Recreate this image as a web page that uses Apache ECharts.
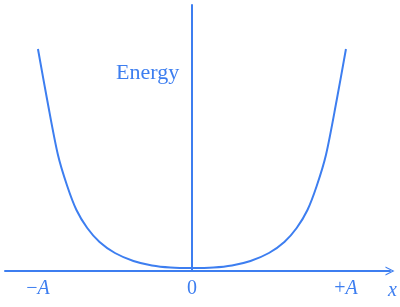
<!DOCTYPE html>
<html><head><meta charset="utf-8">
<script src="https://cdn.jsdelivr.net/npm/echarts@6/dist/echarts.min.js"></script>
<style>html,body{margin:0;padding:0;background:#fff}#c{width:400px;height:307px}</style>
</head><body><div id="c"></div>
<script>
// displacement in units of amplitude A (right half; mirrored for the left)
const halfX = [0, 0.14, 0.26, 0.38, 0.50, 0.60, 0.68, 0.75, 0.81, 0.87, 0.94, 1.0];
// energy (arbitrary units)
const halfE = [0, 0.5, 2.5, 7, 15, 26, 40, 58, 82, 113, 168, 219];
const tickValues = [-1, 0, 1];
const tickLabels = ['{n|−}{i|A}', '{n|0}', '{n|+}{i|A}'];

const pts = [];
for (let i = halfX.length - 1; i > 0; i--) pts.push([-halfX[i], halfE[i]]);
for (let i = 0; i < halfX.length; i++) pts.push([halfX[i], halfE[i]]);

const blue = '#3d7ef0';
const serif = '"Liberation Serif","Times New Roman",serif';
const chart = echarts.init(document.getElementById('c'));
chart.setOption({
  animation: false,
  title: [
    {text: 'Energy', left: 111, top: 57, textStyle: {fontFamily: serif, fontWeight: 'normal', fontSize: 22, color: blue}},
    {text: 'x', left: 383, top: 276, textStyle: {fontFamily: serif, fontStyle: 'italic', fontWeight: 'normal', fontSize: 20, color: blue}}
  ],
  grid: {left: 5, right: 10, top: 5, bottom: 36},
  xAxis: {
    type: 'value', min: -1.214, max: 1.286,
    axisLine: {onZero: false, lineStyle: {color: blue, width: 2},
      symbol: ['none', 'path://M0,10 L5,0 L10,10 L8.6,10 L5,2.6 L1.4,10 Z'], symbolSize: [14, 9]},
    axisTick: {show: false}, splitLine: {show: false},
    axisLabel: {customValues: tickValues, margin: 8,
      formatter: v => tickLabels[tickValues.indexOf(Math.round(v))] || '',
      rich: {n: {fontFamily: serif, fontSize: 20, color: blue}, i: {fontFamily: serif, fontStyle: 'italic', fontSize: 20, color: blue}}}
  },
  yAxis: {
    type: 'value', min: -3, max: 263,
    axisLine: {show: true, onZero: true, lineStyle: {color: blue, width: 2}},
    axisTick: {show: false}, axisLabel: {show: false}, splitLine: {show: false}
  },
  series: [{type: 'line', data: pts, smooth: 0.3, symbol: 'none', lineStyle: {color: blue, width: 2}}]
});
</script></body></html>
